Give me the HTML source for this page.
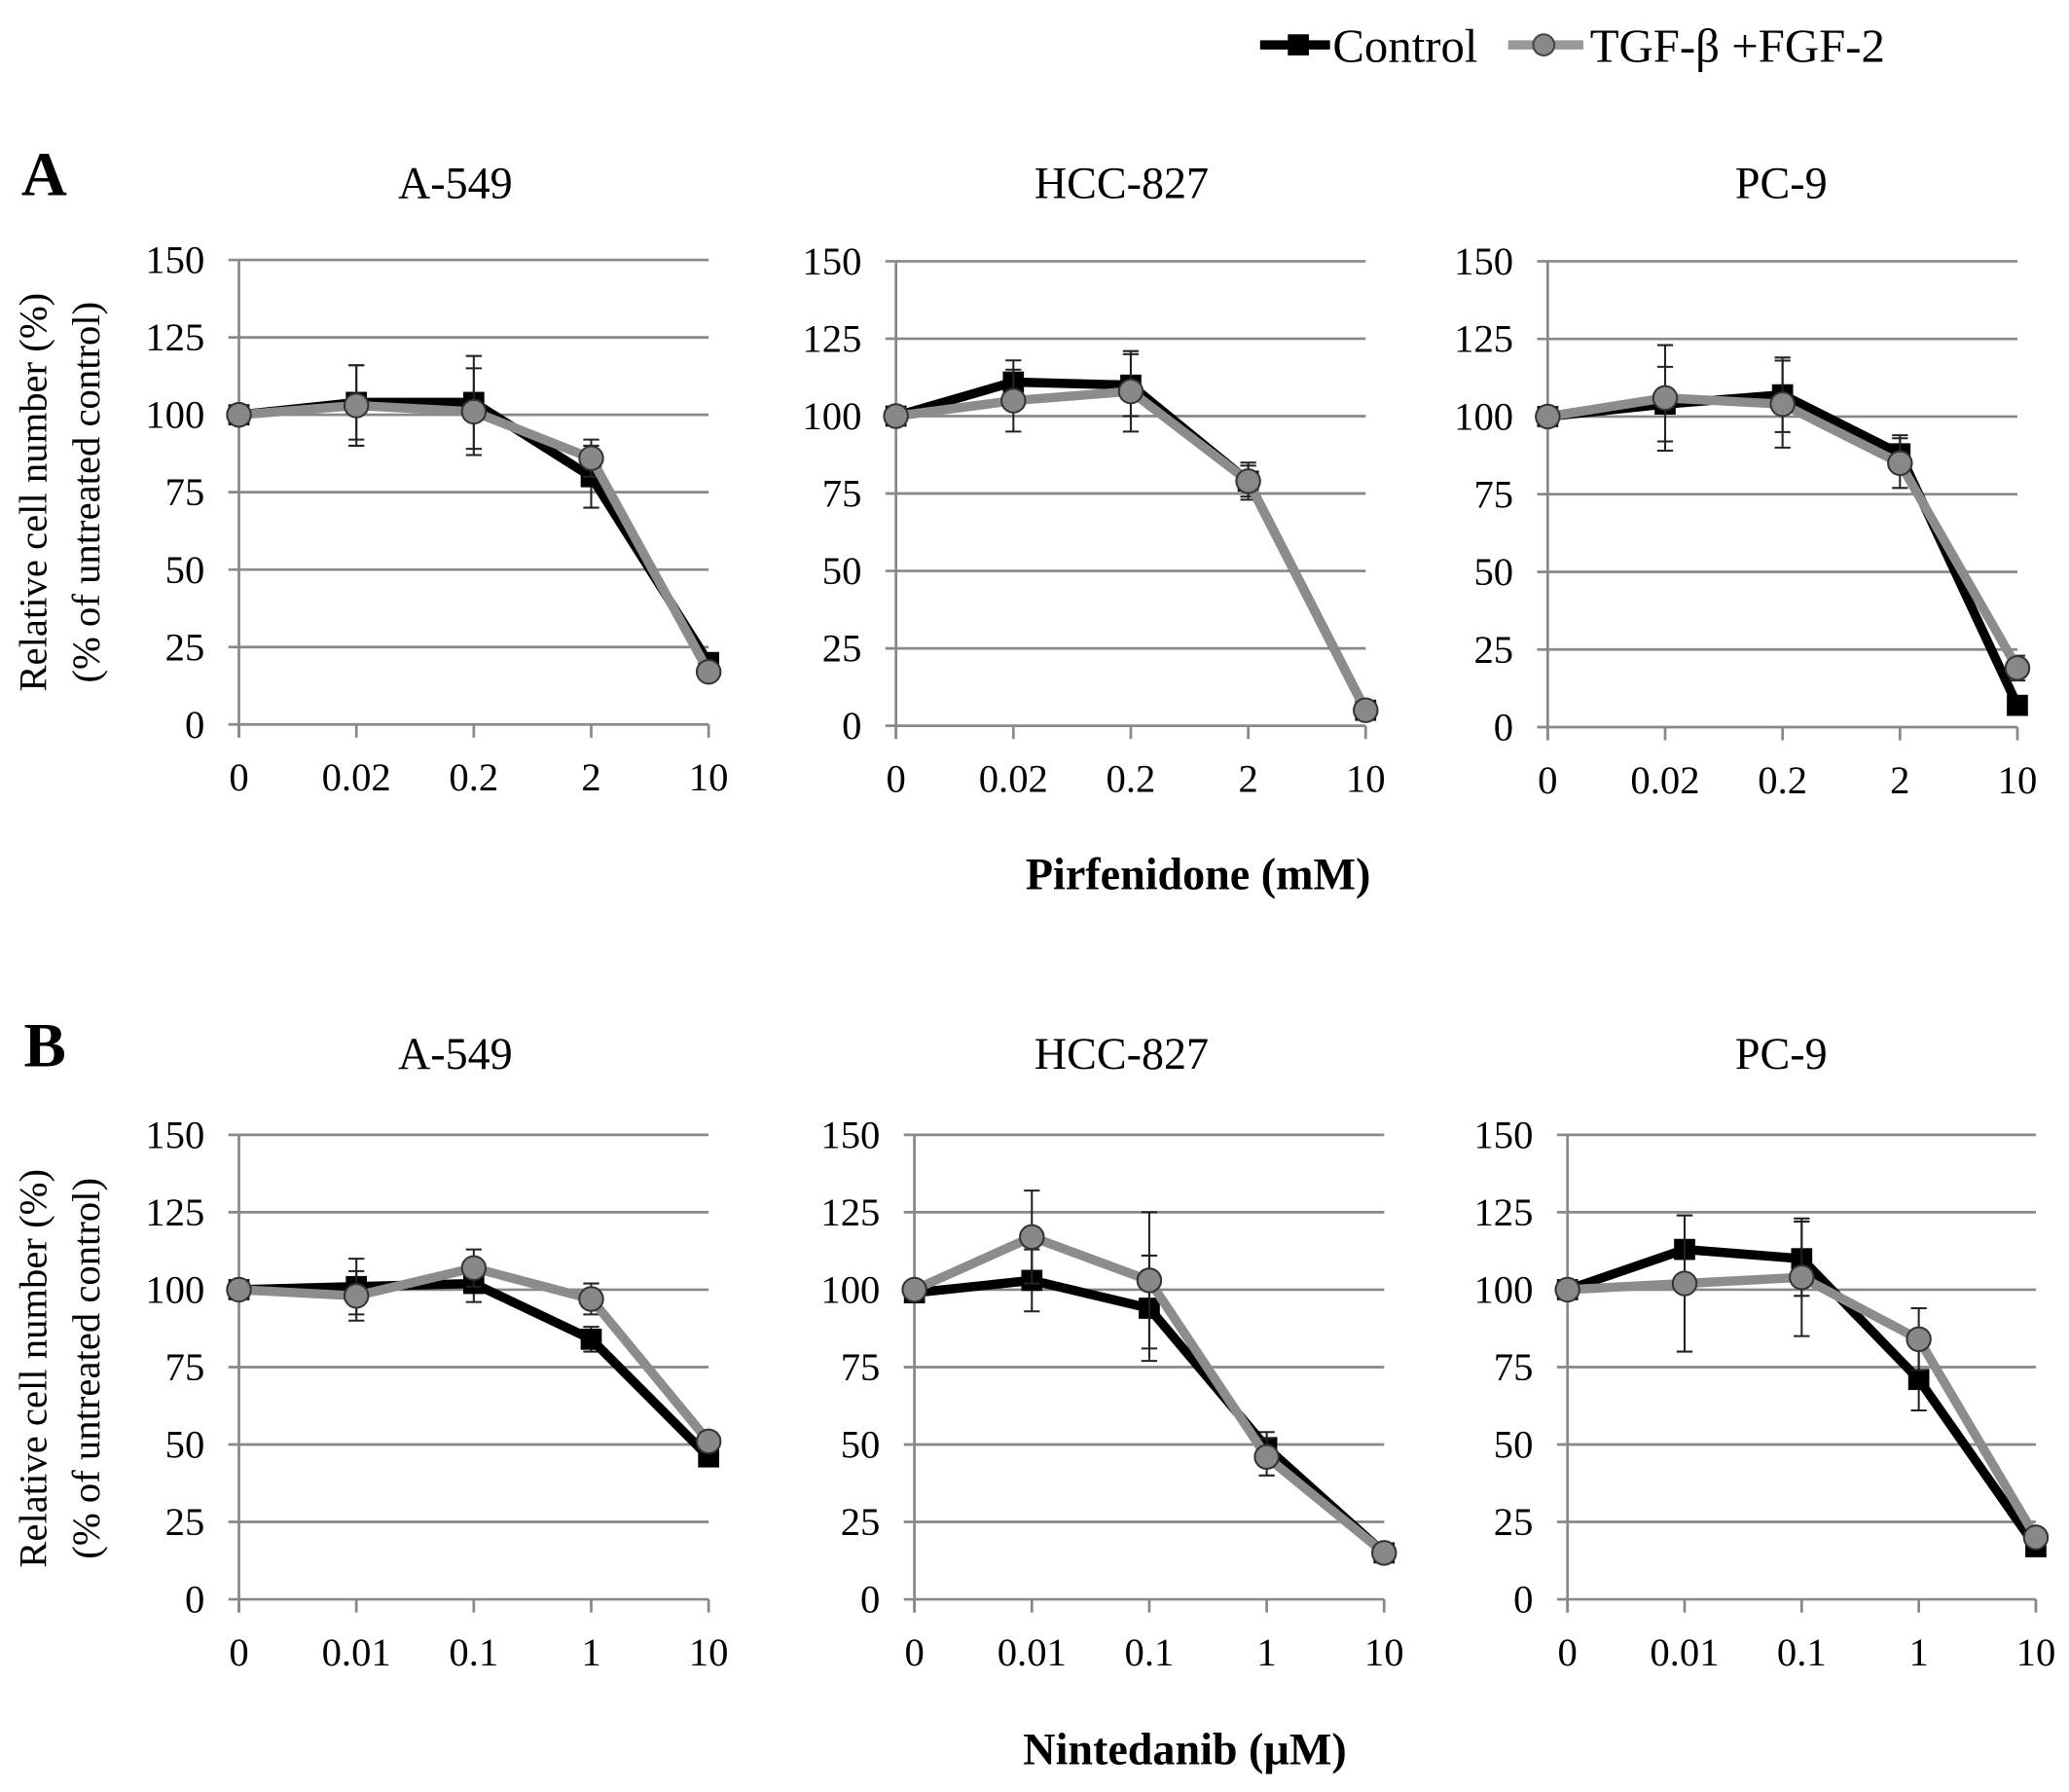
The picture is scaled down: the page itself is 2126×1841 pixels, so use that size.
<!DOCTYPE html>
<html><head><meta charset="utf-8"><style>
html,body{margin:0;padding:0;background:#fff}
svg{display:block}
text{font-family:"Liberation Serif",serif}
</style></head><body>
<svg id="fig" width="2126" height="1841" viewBox="0 0 1568 1358" xmlns="http://www.w3.org/2000/svg">
<g>
 <g>
  <line x1="955" y1="34" x2="1008" y2="34" stroke="#000" stroke-width="7"/>
  <rect x="976" y="26" width="16" height="16" fill="#000"/>
  <text x="1010" y="47" font-size="36">Control</text>
 </g>
 <g>
  <line x1="1143" y1="34" x2="1200" y2="34" stroke="#999" stroke-width="7"/>
  <circle cx="1170" cy="34" r="8" fill="#888" stroke="#444" stroke-width="1.5"/>
  <text x="1205" y="47" font-size="36">TGF-β +FGF-2</text>
 </g>
</g>
<text x="16" y="148" font-size="48" font-weight="bold">A</text>
<text x="18" y="808" font-size="48" font-weight="bold">B</text>
<text x="908" y="674" font-size="34" font-weight="bold" text-anchor="middle">Pirfenidone (mM)</text>
<text x="898" y="1337" font-size="34" font-weight="bold" text-anchor="middle">Nintedanib (µM)</text>
<g transform="translate(0,373) rotate(-90)" font-size="30" text-anchor="middle">
 <text x="0" y="35">Relative cell number (%)</text><text x="0" y="75">(% of untreated control)</text>
</g>
<g transform="translate(0,1037) rotate(-90)" font-size="30" text-anchor="middle">
 <text x="0" y="35">Relative cell number (%)</text><text x="0" y="75">(% of untreated control)</text>
</g>
<g id="plots"></g>
</svg>
<script>
const yTicks = [0,25,50,75,100,125,150];
const pirfCats = ["0","0.02","0.2","2","10"];
const ninCats = ["0","0.01","0.1","1","10"];
const titles = ["A-549","HCC-827","PC-9","A-549","HCC-827","PC-9"];
const ctrlA549P = [100,104,104,80,20];
const tgfA549P = [100,103,101,86,17];
const ctrlErrA549P = [2,12,15,10,2];
const tgfErrA549P = [2,13,14,6,2];
const ctrlHccP = [100,111,110,79,5];
const tgfHccP = [100,105,108,79,5];
const ctrlErrHccP = [2,7,10,5,2];
const tgfErrHccP = [2,10,13,6,2];
const ctrlPc9P = [100,104,107,88,7];
const tgfPc9P = [100,106,104,85,19];
const ctrlErrPc9P = [2,12,12,6,2];
const tgfErrPc9P = [2,17,14,8,4];
const ctrlA549N = [100,101,102,84,46];
const tgfA549N = [100,98,107,97,51];
const ctrlErrA549N = [2,9,6,4,3];
const tgfErrA549N = [2,8,6,5,2];
const ctrlHccN = [99,103,94,49,15];
const tgfHccN = [100,117,103,46,15];
const ctrlErrHccN = [2,10,17,5,2];
const tgfErrHccN = [2,15,22,6,2];
const ctrlPc9N = [100,113,110,71,17];
const tgfPc9N = [100,102,104,84,20];
const ctrlErrPc9N = [2,11,12,10,2];
const tgfErrPc9N = [2,22,19,10,2];

const panels = [
 {x0:181,x1:537,yTop:197,yBot:549,cats:pirfCats,c:ctrlA549P,t:tgfA549P,ce:ctrlErrA549P,te:tgfErrA549P,tx:345,ty:150,name:'a-a549'},
 {x0:679,x1:1035,yTop:198,yBot:550,cats:pirfCats,c:ctrlHccP,t:tgfHccP,ce:ctrlErrHccP,te:tgfErrHccP,tx:850,ty:150,name:'a-hcc827'},
 {x0:1173,x1:1529,yTop:198,yBot:551,cats:pirfCats,c:ctrlPc9P,t:tgfPc9P,ce:ctrlErrPc9P,te:tgfErrPc9P,tx:1350,ty:150,name:'a-pc9'},
 {x0:181,x1:537,yTop:860,yBot:1212,cats:ninCats,c:ctrlA549N,t:tgfA549N,ce:ctrlErrA549N,te:tgfErrA549N,tx:345,ty:810,name:'b-a549'},
 {x0:693,x1:1049,yTop:860,yBot:1212,cats:ninCats,c:ctrlHccN,t:tgfHccN,ce:ctrlErrHccN,te:tgfErrHccN,tx:850,ty:810,name:'b-hcc827'},
 {x0:1188,x1:1543,yTop:860,yBot:1212,cats:ninCats,c:ctrlPc9N,t:tgfPc9N,ce:ctrlErrPc9N,te:tgfErrPc9N,tx:1350,ty:810,name:'b-pc9'}
];
const NS="http://www.w3.org/2000/svg";
const root=document.getElementById('plots');
function mk(tag,attrs,parent){const e=document.createElementNS(NS,tag);for(const k in attrs)e.setAttribute(k,attrs[k]);parent.appendChild(e);return e;}
panels.forEach((p,i)=>{
 const g=mk('g',{},root);
 
 
 const ys=v=>p.yBot-(v/150)*(p.yBot-p.yTop);
 const xs=k=>p.x0+k*(p.x1-p.x0)/(p.cats.length-1);
 const tt=mk('text',{x:p.tx,y:p.ty,'font-size':34,'text-anchor':'middle'},g);tt.textContent=titles[i];
 
 
 yTicks.forEach(v=>{
  const l=mk('line',{x1:p.x0-8,x2:p.x1,y1:ys(v),y2:ys(v),stroke:'#888','stroke-width':2},g);
  
  
  const t=mk('text',{x:p.x0-26,y:ys(v)+10,'font-size':30,'text-anchor':'end'},g);t.textContent=v;
  
  
 });
 mk('line',{x1:p.x0,x2:p.x0,y1:p.yTop,y2:p.yBot+10,stroke:'#888','stroke-width':2},g);
 p.cats.forEach((c,k)=>{
  mk('line',{x1:xs(k),x2:xs(k),y1:p.yBot,y2:p.yBot+10,stroke:'#888','stroke-width':2},g);
  const t=mk('text',{x:xs(k),y:p.yBot+50,'font-size':30,'text-anchor':'middle'},g);t.textContent=c;
  
  
 });
 function series(vals,errs,color,lw,isSq,nm){
  const sg=mk('g',{},g);
  
  
  vals.forEach((v,k)=>{const e=errs[k];
   mk('line',{x1:xs(k),x2:xs(k),y1:ys(v+e),y2:ys(v-e),stroke:'#222','stroke-width':1.5},sg);
   mk('line',{x1:xs(k)-6,x2:xs(k)+6,y1:ys(v+e),y2:ys(v+e),stroke:'#222','stroke-width':1.5},sg);
   mk('line',{x1:xs(k)-6,x2:xs(k)+6,y1:ys(v-e),y2:ys(v-e),stroke:'#222','stroke-width':1.5},sg);
  });
  mk('polyline',{points:vals.map((v,k)=>xs(k)+','+ys(v)).join(' '),fill:'none',stroke:color,'stroke-width':lw,'stroke-linejoin':'round'},sg);
  vals.forEach((v,k)=>{
   const m=isSq?mk('rect',{x:xs(k)-8,y:ys(v)-8,width:16,height:16,fill:'#000'},sg):mk('circle',{cx:xs(k),cy:ys(v),r:9,fill:'#888',stroke:'#333','stroke-width':1.5},sg);
   
   
  });
 }
 series(p.c,p.ce,'#000',7,true,'series-control');
 series(p.t,p.te,'#8c8c8c',7,false,'series-tgf-fgf2');
});
</script>
</body></html>
